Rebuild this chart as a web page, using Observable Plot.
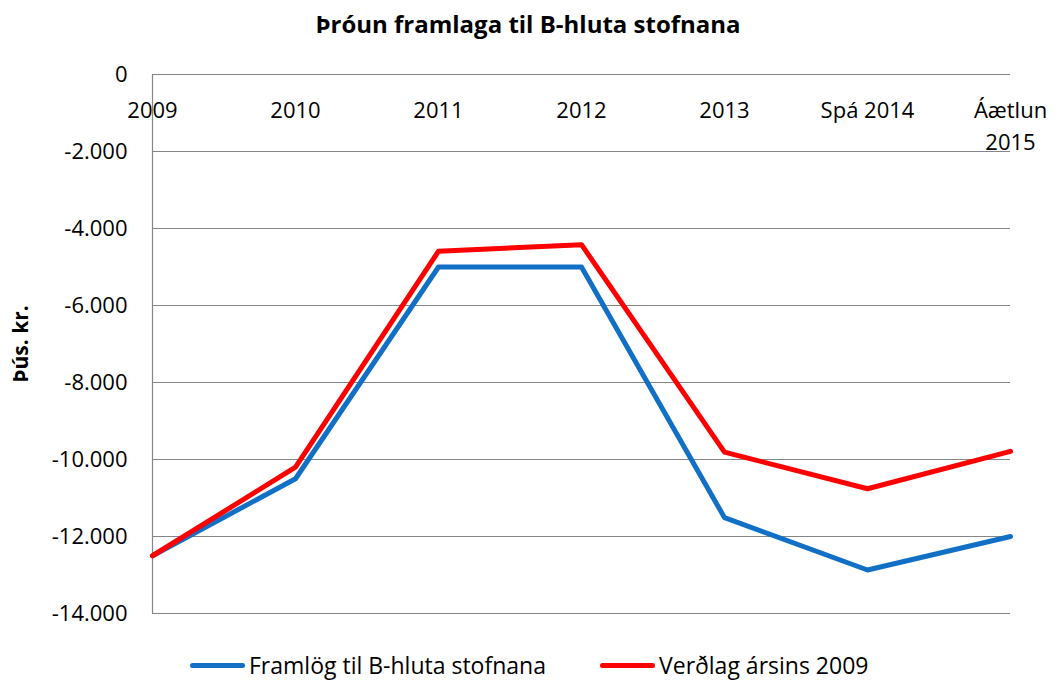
<!DOCTYPE html>
<html>
<head>
<meta charset="utf-8">
<script src="https://cdn.jsdelivr.net/npm/d3@7"></script>
<script src="https://cdn.jsdelivr.net/npm/@observablehq/plot@0.6"></script>
<style>
  body { margin: 0; background: #fff; font-family: "Open Sans", sans-serif; }
  #title { width: 1056px; height: 50px; line-height: 48px; text-align: center; font-weight: bold; font-size: 24px; color: #000; }
  #legend { width: 1056px; height: 44px; font-size: 23px; color: #000; }
  .sw { display: inline-block; width: 55px; height: 5px; border-radius: 3px; margin-right: 4px; }
  .item { position: absolute; display: flex; align-items: center; }
</style>
</head>
<body>
<div id="title">Þróun framlaga til B-hluta stofnana</div>
<div id="chart"></div>
<div id="legend" style="position:relative;"></div>
<script>
const categories = ["2009", "2010", "2011", "2012", "2013", "Spá 2014", "Áætlun\n2015"];
const framlog = [-12500, -10500, -5000, -5000, -11510, -12870, -12000];
const verdlag = [-12500, -10200, -4590, -4420, -9810, -10760, -9790];
const seriesNames = ["Framlög til B-hluta stofnana", "Verðlag ársins 2009"];
const seriesColors = ["#1170C6", "#FF0000"];
const yTicks = [0, -2000, -4000, -6000, -8000, -10000, -12000, -14000];

const rows = [];
categories.forEach((c, i) => {
  rows.push({cat: c, value: framlog[i], series: seriesNames[0]});
});
categories.forEach((c, i) => {
  rows.push({cat: c, value: verdlag[i], series: seriesNames[1]});
});

const fmt = d => (d < 0 ? "-" : "") + String(Math.abs(d)).replace(/\B(?=(\d{3})+(?!\d))/g, ".");

const chart = Plot.plot({
  width: 1056,
  height: 590,
  marginTop: 24,
  marginBottom: 27,
  marginLeft: 152,
  marginRight: 46,
  style: {fontFamily: "'Open Sans', sans-serif", fontSize: "22px", color: "#000", background: "#fff"},
  x: {type: "point", domain: categories, padding: 0, axis: null},
  y: {domain: [-14000, 0], axis: null},
  color: {domain: seriesNames, range: seriesColors},
  marks: [
    Plot.ruleY(yTicks, {stroke: "#868686", strokeWidth: 1.2}),
    Plot.ruleX([categories[0]], {stroke: "#868686", strokeWidth: 1.2}),
    Plot.axisY({ticks: yTicks, tickFormat: fmt, tickSize: 0, tickPadding: 25, label: null, fontSize: 22}),
    Plot.text(["Þús. kr."], {frameAnchor: "left", textAnchor: "middle", rotate: -90, dx: -131, fontWeight: "bold", fontSize: 21}),
    Plot.text(categories, {x: d => d, y: () => 0, dy: 21, lineAnchor: "top", lineHeight: 1.45, fontSize: 22, fill: "#000"}),
    Plot.line(rows, {x: "cat", y: "value", z: "series", stroke: "series", strokeWidth: 5, strokeLinejoin: "round", strokeLinecap: "round"})
  ]
});
document.getElementById("chart").appendChild(chart);

const legend = document.getElementById("legend");
const lx = [190, 600];
seriesNames.forEach((n, i) => {
  const it = document.createElement("div");
  it.className = "item";
  it.style.left = lx[i] + "px";
  it.style.top = "0px";
  it.style.height = "50px";
  it.innerHTML = `<span class="sw" style="background:${seriesColors[i]}"></span><span>${n}</span>`;
  legend.appendChild(it);
});
</script>
</body>
</html>
